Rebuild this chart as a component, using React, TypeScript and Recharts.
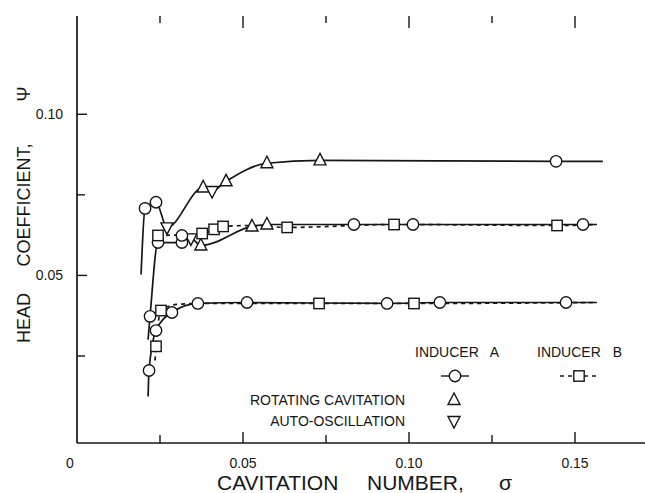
import { LineChart, Line, XAxis, YAxis } from "recharts"

const INK = "#161616"
const FONT = "'Liberation Sans', Arial, Helvetica, sans-serif"
const PLOT_TOP = 16
const PLOT_BOTTOM = 443

// upper branch (inducer A, with rotating cavitation / auto-oscillation marks)
const upperSigma = [0.0193, 0.0205, 0.0238, 0.0271, 0.038, 0.0407, 0.0449, 0.0572, 0.0732, 0.1443, 0.1584]
const upperPsi = [0.0503, 0.0708, 0.0727, 0.0649, 0.0773, 0.0762, 0.0792, 0.0848, 0.0857, 0.0854, 0.0854]
const upperMark = ["", "o", "o", "v", "t", "v", "t", "t", "t", "o", ""]

// middle branch, inducer A
const midASigma = [0.0214, 0.022, 0.0244, 0.0316, 0.0343, 0.0373, 0.0527, 0.0572, 0.0834, 0.1012, 0.1524, 0.1566]
const midAPsi = [0.0301, 0.0373, 0.0602, 0.0602, 0.0615, 0.0593, 0.0652, 0.0658, 0.0658, 0.0658, 0.0658, 0.0658]
const midAMark = ["", "o", "o", "o", "v", "t", "t", "t", "o", "o", "o", ""]

// lone inducer A point sitting on the middle branch
const strayASigma = [0.0316]
const strayAPsi = [0.0624]
const strayAMark = ["o"]

// middle branch, inducer B
const midBSigma = [0.0244, 0.0377, 0.0413, 0.044, 0.0527, 0.0633, 0.0955, 0.1446, 0.1566]
const midBPsi = [0.0624, 0.063, 0.0643, 0.0652, 0.0655, 0.0649, 0.0658, 0.0655, 0.0658]
const midBMark = ["s", "s", "s", "s", "", "s", "s", "s", ""]

// lower branch, inducer A
const lowASigma = [0.0214, 0.0217, 0.0238, 0.0286, 0.0364, 0.0512, 0.0934, 0.1093, 0.1473, 0.1566]
const lowAPsi = [0.0124, 0.0205, 0.0329, 0.0385, 0.0413, 0.0416, 0.0413, 0.0416, 0.0416, 0.0416]
const lowAMark = ["", "o", "o", "o", "o", "o", "o", "o", "o", ""]

// lower branch, inducer B
const lowBSigma = [0.0235, 0.0238, 0.0253, 0.03, 0.0364, 0.0729, 0.1015, 0.1566]
const lowBPsi = [0.0236, 0.028, 0.0391, 0.041, 0.0413, 0.0413, 0.0413, 0.0416]
const lowBMark = ["", "s", "s", "", "", "s", "s", ""]

const xTicks = [0, 0.025, 0.05, 0.075, 0.1, 0.125, 0.15]
const xTickLabels = ["0", "", "0.05", "", "0.10", "", "0.15"]
const yTicks = [0.025, 0.05, 0.075, 0.1]
const yTickLabels = ["", "0.05", "", "0.10"]

const zip = (xs: number[], ys: number[], ms: string[]) =>
  xs.map((x, i) => ({ x, y: ys[i], m: ms[i] }))

const upper = zip(upperSigma, upperPsi, upperMark)
const midA = zip(midASigma, midAPsi, midAMark)
const strayA = zip(strayASigma, strayAPsi, strayAMark)
const midB = zip(midBSigma, midBPsi, midBMark)
const lowA = zip(lowASigma, lowAPsi, lowAMark)
const lowB = zip(lowBSigma, lowBPsi, lowBMark)

function Marker({ kind, cx, cy }: { kind: string; cx: number; cy: number }) {
  const common = { fill: "#fff", stroke: INK, strokeWidth: 1.4 }
  if (kind === "o") return <circle cx={cx} cy={cy} r={5.7} {...common} />
  if (kind === "s") return <rect x={cx - 5.2} y={cy - 5.2} width={10.4} height={10.4} {...common} />
  if (kind === "t")
    return <polygon points={`${cx},${cy - 7} ${cx - 6},${cy + 4.5} ${cx + 6},${cy + 4.5}`} {...common} />
  if (kind === "v")
    return <polygon points={`${cx - 6},${cy - 4.5} ${cx + 6},${cy - 4.5} ${cx},${cy + 7}`} {...common} />
  return null
}

const renderDot = (p: any) => (
  <g key={`m-${p.index}`}>
    <Marker kind={p.payload.m} cx={p.cx} cy={p.cy} />
  </g>
)

// bottom axis tick: inward tick, label below, plus the matching tick hanging from the top frame
function BottomTick(p: any) {
  const i = p.index
  const label = xTickLabels[i]
  const major = i % 2 === 0
  const top = p.y - (PLOT_BOTTOM - PLOT_TOP)
  return (
    <g>
      {i > 0 && <line x1={p.x} y1={p.y} x2={p.x} y2={p.y - (major ? 11 : 8)} stroke={INK} strokeWidth={1.4} />}
      {i > 0 && <line x1={p.x} y1={top} x2={p.x} y2={top + (major ? 12 : 7)} stroke={INK} strokeWidth={1.4} />}
      {label && (
        <text x={i === 0 ? p.x - 7 : p.x} y={p.y + 25} textAnchor="middle" fontSize={14} fill={INK} fontFamily={FONT}>
          {label}
        </text>
      )}
    </g>
  )
}

function LeftTick(p: any) {
  const i = p.index
  const label = yTickLabels[i]
  return (
    <g>
      <line x1={p.x} y1={p.y} x2={p.x + (label ? 10 : 8)} y2={p.y} stroke={INK} strokeWidth={1.4} />
      {label && (
        <text x={p.x - 14} y={p.y + 5} textAnchor="end" fontSize={14} fill={INK} fontFamily={FONT}>
          {label}
        </text>
      )}
    </g>
  )
}

const series = [
  { key: "upper", data: upper, dash: undefined },
  { key: "midA", data: midA, dash: undefined },
  { key: "midB", data: midB, dash: "4 4" },
  { key: "lowA", data: lowA, dash: undefined },
  { key: "lowB", data: lowB, dash: "4 4" },
]

const dotLine = (key: string, data: any[], xAxisId: string) => (
  <Line
    key={`dots-${key}`}
    xAxisId={xAxisId}
    yAxisId="l"
    data={data}
    dataKey="y"
    type="monotone"
    stroke="none"
    dot={renderDot}
    activeDot={false}
    isAnimationActive={false}
  />
)

export default function App() {
  return (
    <div style={{ position: "absolute", left: 0, top: 0, width: 645, height: 493, overflow: "hidden", background: "#fff" }}>
      <LineChart width={660} height={493} margin={{ top: PLOT_TOP, right: 2, bottom: 0, left: 0 }}>
        <XAxis
          xAxisId="b"
          type="number"
          dataKey="x"
          domain={[0, 0.175]}
          ticks={xTicks}
          interval={0}
          allowDataOverflow
          height={493 - PLOT_BOTTOM}
          tickSize={0}
          tickMargin={0}
          tickLine={false}
          axisLine={{ stroke: INK, strokeWidth: 1.7 }}
          tick={(p: any) => <BottomTick {...p} />}
        />
        <XAxis
          xAxisId="t"
          orientation="top"
          type="number"
          dataKey="x"
          domain={[0, 0.175]}
          allowDataOverflow
          height={0}
          tick={false}
          tickLine={false}
          axisLine={{ stroke: INK, strokeWidth: 1.7 }}
        />
        <YAxis
          yAxisId="l"
          type="number"
          domain={[-0.002, 0.1305]}
          ticks={yTicks}
          interval={0}
          allowDataOverflow
          width={77}
          tickSize={0}
          tickMargin={0}
          tickLine={false}
          axisLine={{ stroke: INK, strokeWidth: 1.7 }}
          tick={(p: any) => <LeftTick {...p} />}
        />
        {series.map((s) => (
          <Line
            key={`line-${s.key}`}
            xAxisId="b"
            yAxisId="l"
            data={s.data}
            dataKey="y"
            type="monotone"
            stroke={INK}
            strokeWidth={1.7}
            strokeDasharray={s.dash}
            dot={false}
            activeDot={false}
            isAnimationActive={false}
          />
        ))}
        {series.map((s) => dotLine(s.key, s.data, "b"))}
        {dotLine("strayA", strayA, "t")}
      </LineChart>

      <svg width={645} height={493} style={{ position: "absolute", left: 0, top: 0, pointerEvents: "none" }}>
        <g fontFamily={FONT} fill={INK}>
          <text x={217} y={490} fontSize={21}>CAVITATION</text>
          <text x={367} y={490} fontSize={21}>NUMBER,</text>
          <text x={499} y={490} fontSize={21}>σ</text>

          <g transform="translate(30, 0)">
            <text transform="translate(0, 318) rotate(-90)" textAnchor="middle" fontSize={18}>HEAD</text>
            <text transform="translate(0, 205) rotate(-90)" textAnchor="middle" fontSize={18}>COEFFICIENT,</text>
            <text transform="translate(0, 94) rotate(-90)" textAnchor="middle" fontSize={18}>Ψ</text>
          </g>

          <text x={415} y={357} fontSize={14}>INDUCER</text>
          <text x={499} y={357} fontSize={14} textAnchor="end">A</text>
          <text x={537} y={357} fontSize={14}>INDUCER</text>
          <text x={622} y={357} fontSize={14} textAnchor="end">B</text>
          <text x={405} y={405} fontSize={14} textAnchor="end">ROTATING CAVITATION</text>
          <text x={405} y={426} fontSize={14} textAnchor="end">AUTO-OSCILLATION</text>
        </g>
        <line x1={441} y1={376} x2={469} y2={376} stroke={INK} strokeWidth={1.4} />
        <Marker kind="o" cx={455} cy={376} />
        <line x1={560} y1={376} x2={598} y2={376} stroke={INK} strokeWidth={1.4} strokeDasharray="4 4" />
        <Marker kind="s" cx={579} cy={376} />
        <Marker kind="t" cx={454} cy={400} />
        <Marker kind="v" cx={454} cy={421} />
      </svg>
    </div>
  )
}
